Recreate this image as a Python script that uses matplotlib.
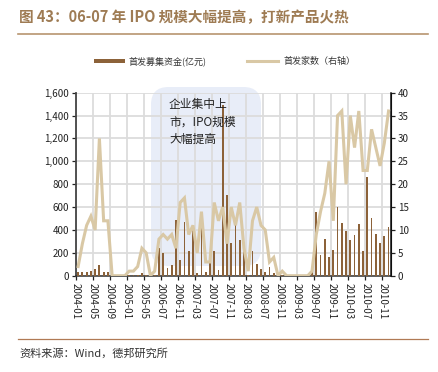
import matplotlib
matplotlib.use("Agg")
import matplotlib.pyplot as plt
from matplotlib.patches import FancyBboxPatch, Rectangle
from matplotlib.lines import Line2D
import numpy as np

plt.rcParams['font.family'] = ['Noto Sans CJK SC', 'DejaVu Sans']

months = (
    ["2004-%02d" % m for m in range(1, 13)]
    + ["2005-%02d" % m for m in range(1, 7)]
    + ["2006-%02d" % m for m in range(5, 13)]
    + ["2007-%02d" % m for m in range(1, 13)]
    + ["2008-%02d" % m for m in range(1, 13)]
    + ["2009-%02d" % m for m in range(1, 13)]
    + ["2010-%02d" % m for m in range(1, 13)]
)

funds = [35, 35, 35, 45, 55, 90, 35, 30, 0, 0, 0, 0,
         10, 8, 10, 20, 10, 5,
         3, 240, 195, 70, 93, 490, 135, 470,
         220, 414, 20, 440, 30, 120, 219, 50, 1490, 705, 290, 440,
         312, 240, 10, 213, 100, 55, 35, 80, 20, 10, 5, 0,
         0, 0, 0, 0, 0, 30, 560, 185, 321, 163, 225, 597,
         458, 393, 312, 353, 449, 216, 860, 502, 363, 289, 344, 428]

counts = [2, 7, 11, 13, 10, 30, 12, 12, 0, 0, 0, 0,
          1, 1, 2, 6, 5, 0,
          1, 8, 9, 8, 9, 6, 16, 17,
          9, 11, 5, 14, 3, 3, 16, 12, 15, 7, 15, 11,
          16, 6, 1, 12, 15, 11, 10, 3, 4, 0, 1, 0,
          0, 0, 0, 0, 0, 1, 9, 14, 18, 25, 12, 35,
          36, 20, 35, 28, 36, 23, 23, 32, 28, 24, 29, 36]

title = "图 43：06-07 年 IPO 规模大幅提高，打新产品火热"
source = "资料来源：Wind，德邦研究所"
note = "企业集中上\n市，IPO规模\n大幅提高"
bar_label = "首发募集资金(亿元)"
line_label = "首发家数（右轴）"

W, H = 439, 372
fig = plt.figure(figsize=(W / 100, H / 100), dpi=100)

bar_color = "#8C6239"
line_color = "#D9C8A5"

# title and rules
fig.text(19 / W, 1 - 17 / H, title, fontsize=10.5, fontweight='bold',
         color="#9E7B53", va='center', ha='left')
fig.add_artist(Line2D([18 / W, 428 / W], [1 - 34 / H, 1 - 34 / H],
                      color="#B89570", lw=1.2, transform=fig.transFigure))
fig.add_artist(Line2D([18 / W, 428 / W], [1 - 339 / H, 1 - 339 / H],
                      color="#B07A55", lw=0.9, transform=fig.transFigure))
fig.text(19 / W, 1 - 353 / H, source, fontsize=8, color="#333333",
         va='center', ha='left')

# highlight box (behind the axes)
bx0, bx1 = 151 / W, 261 / W
by0, by1 = 1 - 266 / H, 1 - 87 / H
box = FancyBboxPatch((bx0, by0), bx1 - bx0, by1 - by0,
                     boxstyle="round,pad=0,rounding_size=0.04",
                     mutation_aspect=W / H,
                     transform=fig.transFigure, facecolor="#E8EDF8",
                     edgecolor='none', zorder=0)
fig.add_artist(box)
fig.text(169 / W, 1 - 98 / H, note, fontsize=8.5, color="#222222",
         va='top', ha='left', linespacing=1.45, zorder=1)

ax = fig.add_axes([76 / W, 1 - 275.7 / H, (390.7 - 76) / W, (275.7 - 92.7) / H])
ax.set_facecolor('none')
ax2 = ax.twinx()

n = len(months)
x = np.arange(n) + 0.5

ax.bar(x, funds, width=0.42, color=bar_color, zorder=3)
ax2.plot(x, counts, color=line_color, lw=2.2, zorder=4, solid_joinstyle='miter')

ax.set_xlim(0, n)
ax.set_ylim(0, 1600)
ax2.set_ylim(0, 40)
ax.set_yticks(np.arange(0, 1601, 200))
ax.set_yticklabels([f"{v:,}" for v in range(0, 1601, 200)])
ax2.set_yticks(np.arange(0, 41, 5))

tick_pos = np.arange(0, n - 1, 4)
ax.set_xticks(tick_pos)
ax.set_xticklabels([months[i] for i in tick_pos], rotation=-90, fontsize=7)

ax.grid(True, color="#DCDCDC", lw=1.3, zorder=1)
ax.set_axisbelow(True)

for a in (ax, ax2):
    a.spines['top'].set_visible(False)
    a.tick_params(labelsize=7, length=3, width=0.9, colors="#222222", pad=2)
ax.spines['left'].set_color("#444444")
ax.spines['left'].set_linewidth(1.3)
ax.spines['bottom'].set_color("#333333")
ax.spines['bottom'].set_linewidth(1.1)
ax2.spines['right'].set_color("#111111")
ax2.spines['right'].set_linewidth(1.1)
ax2.spines['left'].set_visible(False)
ax2.spines['bottom'].set_visible(False)
ax.tick_params(axis='x', pad=2)

# legend
fig.add_artist(Rectangle((94 / W, 1 - 62.5 / H), 31 / W, 4 / H,
                         transform=fig.transFigure, facecolor=bar_color,
                         edgecolor='none'))
fig.text(129 / W, 1 - 61 / H, bar_label, fontsize=6.5, color="#333333",
         va='center', ha='left')
fig.add_artist(Line2D([247 / W, 278 / W], [1 - 61 / H, 1 - 61 / H],
                      color=line_color, lw=2.2, transform=fig.transFigure))
fig.text(283 / W, 1 - 61 / H, line_label, fontsize=6.5, color="#333333",
         va='center', ha='left')

fig.savefig("out.png", dpi=100)
